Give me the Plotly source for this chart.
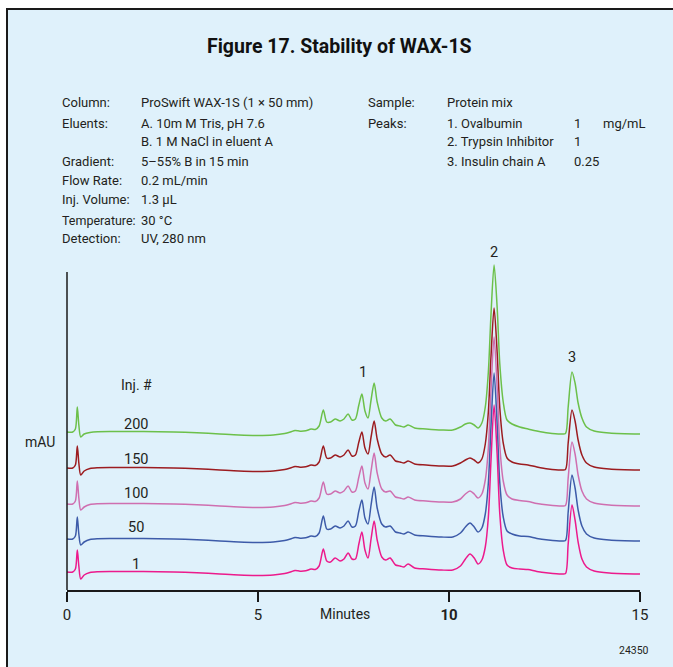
import plotly.graph_objects as go

# ---------------- data ----------------
TIME_MIN = [0.00, 0.15, 0.22, 0.27, 0.31, 0.36, 0.45, 0.60, 0.80, 1.20,
            2.00, 2.80, 3.40, 4.00, 4.50, 5.00, 5.40, 5.70, 5.85, 5.97,
            6.10, 6.25, 6.39, 6.50, 6.60, 6.71, 6.80, 6.90, 7.02, 7.15,
            7.25, 7.36, 7.46, 7.55, 7.64, 7.72, 7.80, 7.88, 7.96, 8.04,
            8.12, 8.24, 8.34, 8.46, 8.60, 8.72, 8.82, 8.93, 9.10, 9.40,
            9.80, 10.10, 10.30, 10.43, 10.55, 10.66, 10.76, 10.86, 10.95, 11.03,
            11.10, 11.18, 11.26, 11.33, 11.42, 11.52, 11.65, 11.85, 12.07, 12.30,
            12.60, 12.95, 13.05, 13.12, 13.22, 13.30, 13.38, 13.48, 13.60, 13.80,
            14.20, 15.00]

INJ_1 = [0, 0, 3, 22, 6, -7, -3, -0.5, 0.3, 0.5,
         0.5, 0, -0.8, -2, -3, -3.5, -3, -1.5, 0, 1.5,
         0.8, 1.2, 3, 2.5, 6, 23, 11, 10, 14, 11,
         13, 19, 13, 13, 28, 40, 22, 14, 33, 51,
         32, 15, 12, 14, 7, 6, 5, 8, 4, 3,
         2, 2, 6, 13, 18, 14, 8, 12, 25, 55,
         112, 167, 118, 58, 22, 7, 4, 3, 2.5, 0.5,
         -1, -2, -1.5, 28, 67, 52, 30, 13, 5, 1,
         -1, -2]

INJ_50 = [0, 0, 3, 22, 5, -6, -3, -0.5, 0.3, 0.5,
          0.5, 0, -0.8, -2, -3, -3.5, -3, -1.5, 0, 1.5,
          0.8, 1.2, 3, 2.5, 6, 23, 10, 10, 13, 11,
          13, 18, 12, 13, 28, 39, 21, 15, 34, 52,
          31, 15, 12, 13, 7, 6, 5, 7, 4, 3,
          2, 2, 6, 12, 16, 12, 7, 11, 25, 56,
          113, 166, 115, 56, 22, 8, 5, 3, 2.5, 0.5,
          -1, -2, -1.5, 27, 64, 51, 29, 13, 5, 1,
          -1, -2]

INJ_100 = [0, 0, 3, 23, 6, -6, -3, -0.5, 0.3, 0.5,
           0.5, 0, -0.8, -2, -3, -3.5, -3, -1.5, 0, 1.5,
           0.8, 1.2, 3, 2.5, 6, 22, 10, 10, 13, 11,
           13, 18, 12, 13, 27, 38, 21, 15, 33, 51,
           31, 15, 12, 13, 7, 6, 5, 7, 4, 3,
           2, 2, 5, 10, 13, 10, 6, 10, 24, 56,
           114, 167, 117, 58, 23, 9, 5, 3.5, 2.5, 0.5,
           -1, -2, -1.5, 26, 62, 50, 29, 13, 5, 1,
           -1, -2]

INJ_150 = [0, 0, 3, 22, 5, -7, -3, -0.5, 0.3, 0.5,
           0.5, 0, -0.8, -2, -3, -3.5, -3, -1.5, 0, 1.5,
           0.8, 1.2, 3, 2.5, 6, 22, 10, 10, 13, 11,
           13, 18, 12, 13, 26, 36, 20, 14, 31, 47,
           29, 14, 11, 13, 7, 6, 5, 7, 4, 3,
           2, 2, 5, 8, 10, 8, 5, 9, 24, 56,
           112, 160, 116, 60, 25, 10, 6, 4, 3, 1,
           -1, -2, -1.5, 25, 58, 47, 28, 13, 5, 1,
           -1, -2]

INJ_200 = [0, 0, 3, 25, 7, -5, -2, -0.5, 0.3, 0.5,
           0.5, 0, -0.8, -2, -3, -3.5, -3, -1.5, 0, 1.5,
           0.8, 1.2, 3, 2.5, 6, 22, 10, 10, 13, 11,
           13, 18, 12, 13, 27, 38, 21, 14, 32, 49,
           30, 14, 11, 13, 7, 6, 5, 7, 4, 3,
           2, 2, 5, 8, 9, 7, 4, 9, 25, 60,
           118, 167, 125, 68, 30, 12, 8, 5, 3, 1,
           -1, -2, -1.5, 25, 60, 49, 29, 14, 5, 1,
           -1, -2]

INJ_LABELS = ["1", "50", "100", "150", "200"]
PEAK_LABELS = ["1", "2", "3"]
X_TICKS = [0, 5, 10, 15]
X_TICK_TEXT = ["0", "5", "<b>10</b>", "15"]

# ---------------- styling / layout constants ----------------
SERIES = [INJ_1, INJ_50, INJ_100, INJ_150, INJ_200]
COLORS = ["#ec1a8c", "#3d5ba9", "#cf6fb0", "#9c1c20", "#6cc04a"]
OFFSETS = [18, 51, 86, 122, 158]          # vertical stacking of the chromatograms
LABEL_Y = [26, 63, 97, 131, 166]
PEAK_POS = [(7.75, 218), (11.18, 338), (13.21, 233)]
BG = "#dff1fb"
FONT = "Roboto, Liberation Sans, sans-serif"
TXT = "#231f20"

W, H = 673, 667
L, R, T, B = 67, 33, 260, 77
YMAX = 330


def pxx(x):
    return (x - L) / (W - L - R)


def pxy(y):
    return (H - B - y) / (H - T - B)


fig = go.Figure()
for i in reversed(range(len(SERIES))):
    fig.add_trace(go.Scatter(
        x=TIME_MIN,
        y=[v + OFFSETS[i] for v in SERIES[i]],
        mode="lines",
        line=dict(color=COLORS[i], width=1.5, shape="spline", smoothing=0.8),
        name="Inj. " + INJ_LABELS[i],
        hoverinfo="skip",
        showlegend=False,
    ))

ann = []


def text_at(x, y, s, size=13.5, xanchor="left", weight="normal", color=TXT, ref="paper"):
    if ref == "paper":
        ann.append(dict(x=pxx(x), y=pxy(y), xref="paper", yref="paper", text=s,
                        showarrow=False, xanchor=xanchor, yanchor="middle",
                        font=dict(size=size, color=color, family=FONT, weight=weight)))
    else:
        # x in minutes, y in signal units (converted to paper so it is never hidden)
        ann.append(dict(x=x, y=y / YMAX, xref="x", yref="paper", text=s,
                        showarrow=False, xanchor=xanchor, yanchor="middle",
                        font=dict(size=size, color=color, family=FONT, weight=weight)))


# injection labels
text_at(1.81, 205, "Inj. #", size=14, xanchor="center", ref="data")
for lab, yy in zip(INJ_LABELS, LABEL_Y):
    text_at(1.81, yy, lab, size=14.5, xanchor="center", ref="data")
# peak labels
for lab, (xx, yy) in zip(PEAK_LABELS, PEAK_POS):
    text_at(xx, yy, lab, size=14.5, xanchor="center", ref="data")

# title
text_at(339, 47, "Figure 17. Stability of WAX-1S", size=19.5, xanchor="center",
        weight="bold", color="#111")

info_left = [
    (103, "Column:", "ProSwift WAX-1S (1 × 50 mm)"),
    (123, "Eluents:", "A. 10m M Tris, pH 7.6"),
    (142, "", "B. 1 M NaCl in eluent A"),
    (161, "Gradient:", "5–55% B in 15 min"),
    (181, "Flow Rate:", "0.2 mL/min"),
    (200, "Inj. Volume:", "1.3 µL"),
    (220, "Temperature:", "30 °C"),
    (239, "Detection:", "UV, 280 nm"),
]
for yy, a, b in info_left:
    if a:
        text_at(60, yy, a, size=12.5 if a == "Temperature:" else 13)
    text_at(139, yy, b, size=13)

info_right = [
    (103, "Sample:", "Protein mix", "", ""),
    (123, "Peaks:", "1. Ovalbumin", "1", "mg/mL"),
    (142, "", "2. Trypsin Inhibitor", "1", ""),
    (161, "", "3. Insulin chain A", "0.25", ""),
]
for yy, a, b, c, d in info_right:
    for xx, t in ((366, a), (445, b), (572, c), (601, d)):
        if t:
            text_at(xx, yy, t, size=13)

# axis captions
text_at(345, 614, "Minutes", size=14, xanchor="center")
text_at(40, 442, "mAU", size=14, xanchor="center")
text_at(634, 650, "24350", size=10.5, xanchor="center")

shapes = [
    # white outer strips
    dict(type="rect", xref="paper", yref="paper", x0=pxx(-5), x1=pxx(W + 5),
         y0=pxy(8), y1=pxy(-5), fillcolor="white", line=dict(width=0), layer="above"),
    dict(type="rect", xref="paper", yref="paper", x0=pxx(-5), x1=pxx(6),
         y0=pxy(H + 5), y1=pxy(-5), fillcolor="white", line=dict(width=0), layer="above"),
    # panel border (top and left)
    dict(type="line", xref="paper", yref="paper", x0=pxx(6), x1=pxx(W + 5),
         y0=pxy(9), y1=pxy(9), line=dict(color="#1a1a1a", width=2), layer="above"),
    dict(type="line", xref="paper", yref="paper", x0=pxx(7), x1=pxx(7),
         y0=pxy(9), y1=pxy(H + 5), line=dict(color="#1a1a1a", width=2), layer="above"),
    # y axis line (stops below the tallest peak)
    dict(type="line", xref="paper", yref="paper", x0=0, x1=0,
         y0=0, y1=pxy(272), line=dict(color="#1a1a1a", width=1.5), layer="above"),
]

fig.update_layout(
    width=W, height=H,
    margin=dict(l=L, r=R, t=T, b=B),
    paper_bgcolor=BG, plot_bgcolor=BG,
    annotations=ann, shapes=shapes,
    showlegend=False,
    xaxis=dict(range=[0, 15], tickvals=X_TICKS, ticktext=X_TICK_TEXT,
               showgrid=False, zeroline=False, showline=True,
               linecolor="#1a1a1a", linewidth=1.5, ticks="outside",
               ticklen=10, tickwidth=1.5, tickcolor="#1a1a1a",
               tickfont=dict(size=15, color=TXT, family=FONT), fixedrange=True),
    yaxis=dict(range=[0, YMAX], showgrid=False, zeroline=False, showline=False,
               showticklabels=False, ticks="", fixedrange=True),
)

fig.write_html("out.html")
